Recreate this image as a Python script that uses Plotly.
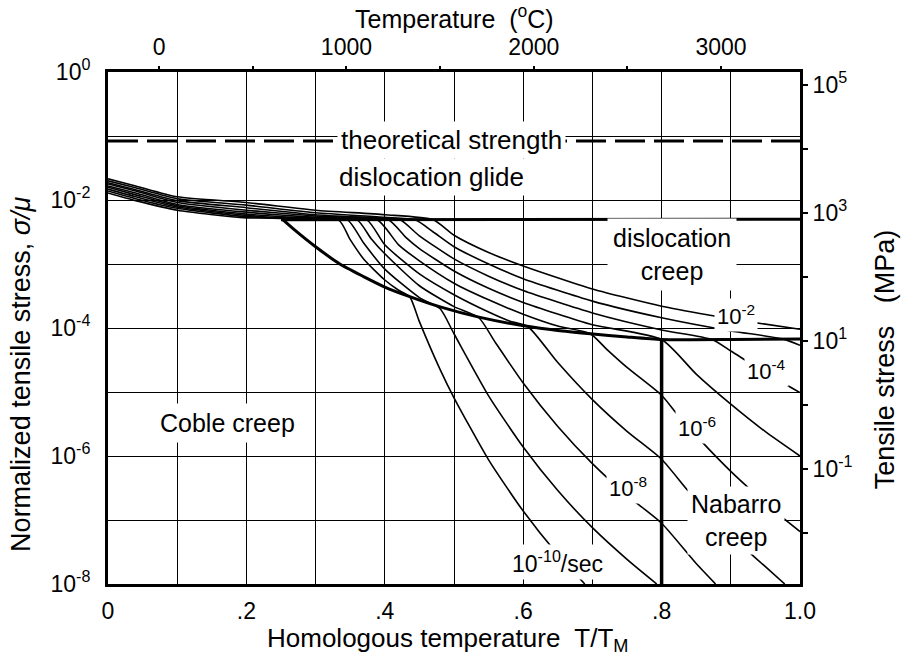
import numpy as np
import plotly.graph_objects as go

# ---------------- data ----------------
TM_K = 3695.0          # melting temperature of tungsten, K
LOG_MU_MPA = 5.2       # log10 of shear modulus in MPa (right axis offset)

# strain-rate contours: homologous temperature T/TM and log10(sigma/mu)
C2_X = [0, 0.04, 0.1, 0.2, 0.3, 0.4, 0.47, 0.50, 0.55, 0.6, 0.7, 0.8, 0.87, 0.925, 1.0]
C2_L = [-1.67, -1.78, -1.95, -2.04, -2.16, -2.23, -2.31, -2.55, -2.82, -3.03, -3.39, -3.66, -3.80, -3.90, -4.02]

C3_X = [0, 0.04, 0.1, 0.2, 0.3, 0.4, 0.444, 0.47, 0.5, 0.55, 0.6, 0.7, 0.8, 0.9, 0.975, 1.0]
C3_L = [-1.70, -1.81, -1.98, -2.08, -2.20, -2.27, -2.31, -2.50, -2.73, -3.00, -3.23, -3.58, -3.84, -4.045, -4.17, -4.27]

C4_X = [0, 0.04, 0.1, 0.2, 0.3, 0.38, 0.422, 0.45, 0.5, 0.55, 0.6, 0.7, 0.8, 0.873, 0.9, 0.95, 1.0]
C4_L = [-1.73, -1.84, -2.01, -2.12, -2.23, -2.28, -2.31, -2.56, -2.92, -3.19, -3.415, -3.765, -4.03, -4.18, -4.36, -4.70, -5.01]

C5_X = [0, 0.04, 0.1, 0.2, 0.3, 0.405, 0.43, 0.45, 0.5, 0.55, 0.6, 0.7, 0.8, 0.85, 0.9, 0.95, 1.0]
C5_L = [-1.75, -1.86, -2.04, -2.16, -2.25, -2.31, -2.58, -2.76, -3.11, -3.38, -3.60, -3.95, -4.18, -4.72, -5.19, -5.62, -6.00]

C6_X = [0, 0.04, 0.1, 0.2, 0.3, 0.389, 0.42, 0.45, 0.5, 0.55, 0.6, 0.65, 0.697, 0.72, 0.75, 0.8, 0.822, 0.855, 0.9, 0.932, 0.97, 1.0]
C6_L = [-1.78, -1.89, -2.07, -2.19, -2.27, -2.31, -2.70, -2.95, -3.30, -3.56, -3.785, -3.97, -4.09, -4.325, -4.615, -5.05, -5.34, -5.74, -6.24, -6.56, -6.92, -7.18]

C7_X = [0, 0.04, 0.1, 0.2, 0.3, 0.374, 0.40, 0.45, 0.5, 0.55, 0.58, 0.607, 0.65, 0.7, 0.75, 0.8, 0.838, 0.87, 0.9, 0.92, 0.95, 0.978]
C7_L = [-1.80, -1.92, -2.09, -2.22, -2.29, -2.31, -2.70, -3.155, -3.48, -3.75, -3.89, -3.98, -4.54, -5.12, -5.615, -6.05, -6.54, -6.91, -7.24, -7.44, -7.73, -8.0]

C8_X = [0, 0.04, 0.1, 0.2, 0.3, 0.36, 0.38, 0.40, 0.45, 0.5, 0.536, 0.56, 0.6, 0.65, 0.7, 0.75, 0.8, 0.85, 0.878]
C8_L = [-1.83, -1.95, -2.11, -2.24, -2.30, -2.31, -2.60, -2.84, -3.34, -3.666, -3.84, -4.23, -4.86, -5.54, -6.12, -6.615, -7.05, -7.68, -8.0]

C9_X = [0, 0.04, 0.1, 0.2, 0.3, 0.346, 0.37, 0.40, 0.45, 0.48, 0.5, 0.55, 0.6, 0.65, 0.7, 0.75, 0.793]
C9_L = [-1.86, -1.98, -2.13, -2.26, -2.305, -2.31, -2.68, -3.08, -3.525, -3.70, -4.09, -5.06, -5.86, -6.54, -7.12, -7.615, -8.0]

C10_X = [0, 0.04, 0.1, 0.2, 0.333, 0.35, 0.37, 0.40, 0.42, 0.436, 0.45, 0.48, 0.5, 0.55, 0.6, 0.65, 0.689]
C10_L = [-1.89, -2.01, -2.16, -2.28, -2.31, -2.62, -2.93, -3.25, -3.41, -3.51, -3.90, -4.65, -5.09, -6.06, -6.86, -7.54, -8.0]

CONTOURS = [(C2_X, C2_L), (C3_X, C3_L), (C4_X, C4_L), (C5_X, C5_L), (C6_X, C6_L),
            (C7_X, C7_L), (C8_X, C8_L), (C9_X, C9_L), (C10_X, C10_L)]

# field boundaries
GLIDE_X = [0.25, 1.0]
GLIDE_L = [-2.31, -2.30]
DISL_X = [0.253, 0.27, 0.30, 0.335, 0.37, 0.40, 0.436, 0.48, 0.536, 0.603, 0.65, 0.697, 0.75, 0.80, 0.9, 1.0]
DISL_L = [-2.31, -2.47, -2.73, -3.00, -3.20, -3.36, -3.51, -3.67, -3.83, -3.97, -4.04, -4.09, -4.14, -4.18, -4.18, -4.17]
NH_X = [0.8, 0.8]
NH_L = [-4.18, -8.0]
THEO_X = [0.0, 1.0]
THEO_L = [-1.078, -1.078]

# axis ticks
X_TICKS = [round(0.1 * i, 1) for i in range(11)]
X_TICKTEXT = ["0", "", ".2", "", ".4", "", ".6", "", ".8", "", "1.0"]
Y_EXP = list(range(-8, 1))
Y_TICKTEXT = ["10<sup>%d</sup>" % e if e % 2 == 0 else "" for e in Y_EXP]
MPA_EXP = list(range(-2, 6))
MPA_TICKTEXT = ["10<sup>%d</sup>" % e if e % 2 == 1 else "" for e in MPA_EXP]
C_TICKS = [0, 500, 1000, 1500, 2000, 2500, 3000]
C_TICKTEXT = ["0", "", "1000", "", "2000", "", "3000"]

FONT = "Liberation Sans, Arial, Helvetica, sans-serif"
TICK_SIZE = 23

# ---------------- figure ----------------
fig = go.Figure()

def add_line(xs, ls, width, dash=None, shape="spline"):
    fig.add_trace(go.Scatter(
        x=xs, y=np.power(10.0, np.array(ls)), mode="lines",
        line=dict(color="black", width=width, dash=dash, shape=shape,
                  smoothing=0.6 if shape == "spline" else None),
        hoverinfo="skip", showlegend=False))

for cx, cl in CONTOURS:
    add_line(cx, cl, 1.6)

add_line(GLIDE_X, GLIDE_L, 3.0, shape="linear")
add_line(DISL_X, DISL_L, 3.0)
add_line(NH_X, NH_L, 3.5, shape="linear")
add_line(THEO_X, THEO_L, 3.0, dash="30px,9px", shape="linear")

# dummy trace to attach the secondary (top / right) axes
fig.add_trace(go.Scatter(x=[None], y=[None], xaxis="x2", yaxis="y2",
                         mode="lines", showlegend=False, hoverinfo="skip"))

axis_common = dict(showgrid=True, gridcolor="black", gridwidth=1.3,
                   zeroline=False, linecolor="black", linewidth=3,
                   mirror=True, showline=True, ticks="",
                   tickfont=dict(family=FONT, size=TICK_SIZE, color="black"))

fig.update_layout(
    width=902, height=662,
    margin=dict(l=108, r=102, t=72, b=78),
    paper_bgcolor="white", plot_bgcolor="white",
    font=dict(family=FONT, color="black"),
    xaxis=dict(range=[0, 1], tickvals=X_TICKS, ticktext=X_TICKTEXT,
               ticklabelstandoff=4, **axis_common),
    yaxis=dict(type="log", range=[-8, 0], tickvals=[10.0 ** e for e in Y_EXP],
               ticktext=Y_TICKTEXT, ticklabelstandoff=10, **axis_common),
    xaxis2=dict(overlaying="x", side="top", range=[-273.15, TM_K - 273.15],
                tickvals=C_TICKS, ticktext=C_TICKTEXT, showgrid=False,
                zeroline=False, showline=False, ticks="outside", ticklen=5,
                tickwidth=1.5, tickcolor="black", ticklabelstandoff=2,
                tickfont=dict(family=FONT, size=TICK_SIZE, color="black")),
    yaxis2=dict(overlaying="y", side="right", type="log",
                range=[-8 + LOG_MU_MPA, 0 + LOG_MU_MPA],
                tickvals=[10.0 ** e for e in MPA_EXP], ticktext=MPA_TICKTEXT,
                showgrid=False, zeroline=False, showline=False,
                ticks="outside", ticklen=7, tickwidth=1.5, tickcolor="black",
                tickfont=dict(family=FONT, size=TICK_SIZE, color="black")),
)

ann = []
def label(x, l, text, size=26, pad=4, bg="white"):
    ann.append(dict(x=x, y=l, xref="x", yref="y", text=text, showarrow=False,
                    font=dict(family=FONT, size=size, color="black"),
                    bgcolor=bg, borderpad=pad, xanchor="center", yanchor="middle"))

label(0.497, -1.07, "theoretical strength", pad=3)
label(0.467, -1.648, "dislocation glide", pad=3)
label(0.815, -2.85, "dislocation<br>creep", size=25, pad=5)
label(0.173, -5.477, "Coble creep", size=25, pad=5)
label(0.9075, -7.01, "Nabarro<br>creep", size=25, pad=3)
label(0.9075, -3.79, "10<sup>-2</sup>", size=22, pad=2)
label(0.951, -4.65, "10<sup>-4</sup>", size=22, pad=2)
label(0.851, -5.55, "10<sup>-6</sup>", size=22, pad=2)
label(0.751, -6.49, "10<sup>-8</sup>", size=22, pad=2)
label(0.65, -7.65, "10<sup>-10</sup>/sec", size=23, pad=2)

def title(x, y, text, angle=0, size=26):
    ann.append(dict(x=x, y=y, xref="paper", yref="paper", text=text,
                    showarrow=False, textangle=angle,
                    font=dict(family=FONT, size=size, color="black"),
                    xanchor="center", yanchor="middle"))

title(0.5, 1.108, "Temperature  (<sup>o</sup>C)", size=25)
title(0.491, -0.108, "Homologous temperature  T/T<sub>M</sub>")
title(-0.126, 0.41, "Normalized tensile stress, <i>σ/μ</i>", angle=-90, size=27)
title(1.1228, 0.439, "Tensile stress   (MPa)", angle=-90, size=27)

fig.update_layout(annotations=ann)
fig.write_html("out.html")
